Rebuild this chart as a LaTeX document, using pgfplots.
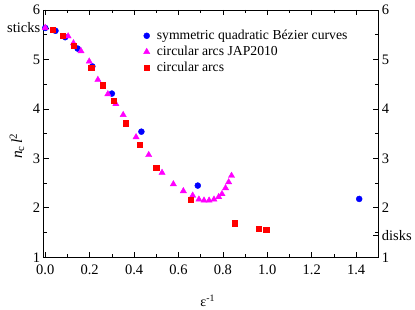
\documentclass[border=0pt]{standalone}
\usepackage{fontspec}
\setmainfont{Liberation Serif}
\usepackage{pgfplots}
\pgfplotsset{compat=1.18}
\definecolor{cblue}{RGB}{0,0,255}
\definecolor{cmag}{RGB}{255,0,255}
\definecolor{cred}{RGB}{255,0,0}
\begin{document}
\begin{tikzpicture}
\pgfplotsset{
  common/.style={
    width=334.6pt, height=247.3pt, scale only axis,
    xmin=-0.007, xmax=1.5, ymin=1, ymax=6,
    xtick={0,0.2,...,1.4}, ytick={1,2,3,4,5,6},
    minor x tick num=1, minor y tick num=1,
    tick align=inside,
    major tick length=5pt, minor tick length=3pt,
    /pgf/number format/assume math mode=true,
    tick label style={font=\fontsize{14.5}{16}\selectfont},
    axis line style={line width=0.8pt},
    every tick/.style={line width=0.7pt, black},
  }
}
\begin{axis}[common,
  xtick pos=both, ytick pos=left,
  xticklabel pos=bottom,
  x tick label style={yshift=-4.5pt, /pgf/number format/.cd, fixed, fixed zerofill, precision=1},
  extra y ticks={5.637}, extra y tick labels={sticks},
  extra y tick style={tick label style={font=\fontsize{14.5}{16}\selectfont}},
  xlabel={ε\textsuperscript{-1}},
  xlabel style={at={(axis description cs:0.49,-0.175)}, anchor=center, font=\fontsize{14}{16}\selectfont},
  ylabel={\textit{n}\textsubscript{c}\,\textit{l}\textsuperscript{2}},
  ylabel style={at={(axis description cs:-0.08,0.45)}, anchor=center, rotate=0, font=\fontsize{15.5}{17}\selectfont},
  legend style={draw=none, fill=none, at={(axis description cs:0.289,0.935)}, anchor=north west,
    font=\fontsize{13.7}{15}\selectfont, row sep=1pt,
    /tikz/every odd column/.style={column sep=5pt}},
  legend cell align=left,
  clip=false,
]
\coordinate (sw) at (rel axis cs:0,0);
\addplot[only marks, mark=*, mark size=3pt, color=cblue, mark options={draw=cblue, fill=cblue}] coordinates {
(0,5.637) (0.046,5.58) (0.09,5.45) (0.146,5.22) (0.212,4.86) (0.30,4.31) (0.433,3.54) (0.687,2.45) (1.414,2.18)
};
\addlegendentry{symmetric quadratic Bézier curves}
\addplot[only marks, mark=triangle*, mark size=3.6pt, color=cmag, mark options={draw=cmag, fill=cmag}] coordinates {
(0,5.64) (0.103,5.47) (0.127,5.33) (0.161,5.17) (0.198,4.96) (0.237,4.59) (0.282,4.30) (0.318,4.10) (0.351,3.88) (0.409,3.43) (0.466,3.07) (0.526,2.71) (0.577,2.48) (0.622,2.34) (0.664,2.25) (0.692,2.17) (0.715,2.15) (0.738,2.15) (0.760,2.17) (0.781,2.22) (0.796,2.28) (0.812,2.40) (0.826,2.52) (0.839,2.65)
};
\addlegendentry{circular arcs JAP2010}
\addplot[only marks, mark=square*, mark size=2.6pt, color=cred, mark options={draw=cred, fill=cred}] coordinates {
(0.033,5.60) (0.080,5.48) (0.129,5.28) (0.207,4.83) (0.258,4.48) (0.307,4.16) (0.364,3.71) (0.427,3.27) (0.50,2.81) (0.655,2.17) (0.852,1.69) (0.962,1.58) (0.995,1.55)
};
\addlegendentry{circular arcs}
\end{axis}
\begin{axis}[common,
  axis x line=none, axis y line*=right,
  ytick pos=right,
  extra y ticks={1.436}, extra y tick labels={disks},
  extra y tick style={tick label style={font=\fontsize{14.5}{16}\selectfont}},
]
\end{axis}
\path (sw) ++(-43.7pt,-51.7pt) rectangle ++(415pt,309pt);
\end{tikzpicture}
\end{document}
